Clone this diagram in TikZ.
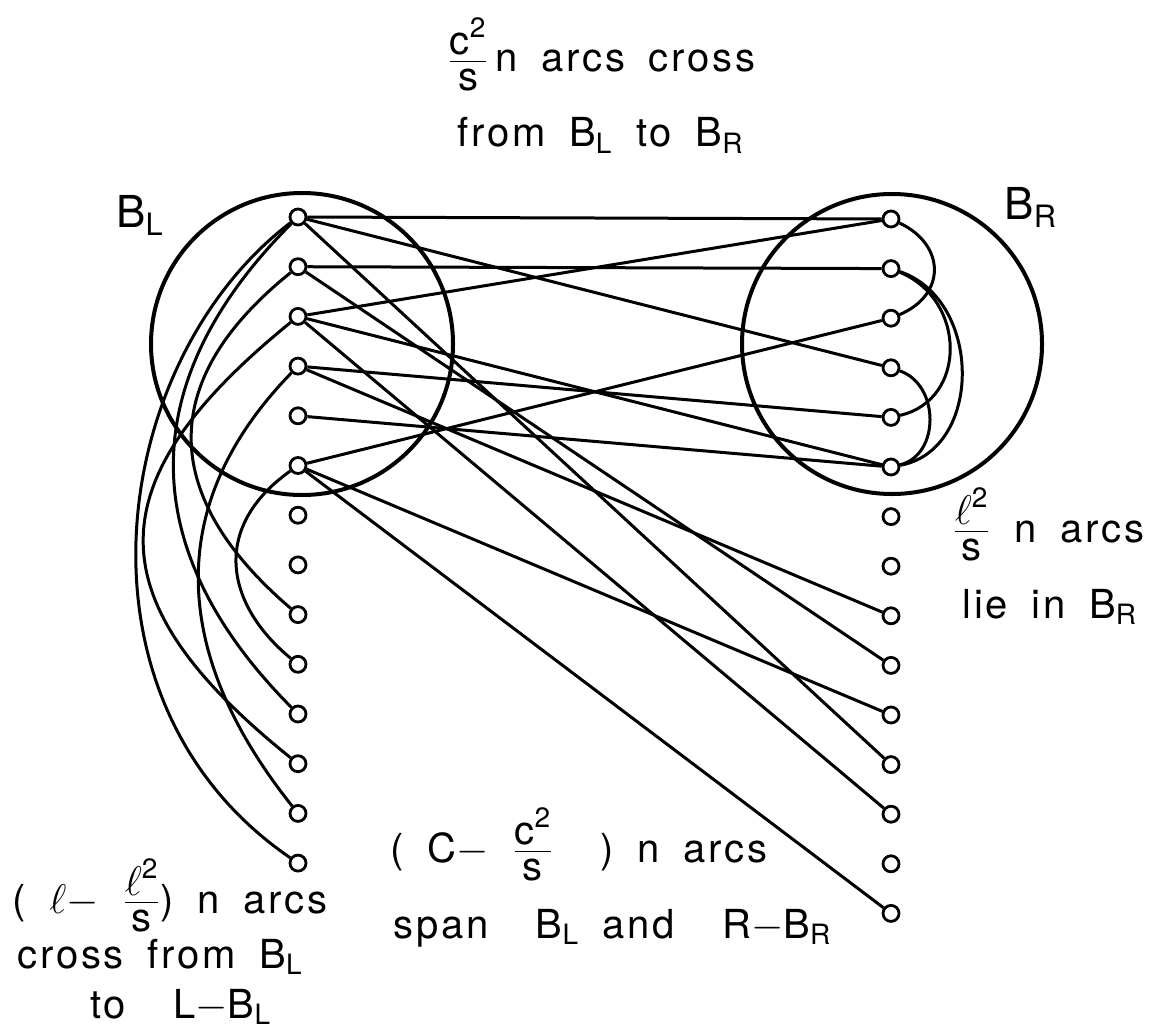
\documentclass[tikz,border=0pt]{standalone}
\usepackage{amsmath}
\usepackage{fontspec}
\setmainfont{TeX Gyre Heros}[LetterSpace=7,WordSpace=1.7]
\usepackage{tikz}
\newcommand{\fr}[2]{\tfrac{\displaystyle #1\rule[-2.5pt]{0pt}{2.5pt}}{\displaystyle #2\rule{0pt}{13pt}}}

\begin{document}
\begin{tikzpicture}[x=0.5pt,y=-0.5pt,
  vtx/.style={draw,circle,fill=white,line width=1.4pt,minimum size=8pt,inner sep=0pt},
  bag/.style={draw,circle,line width=2pt,inner sep=0pt},
  aresta/.style={line width=1.5pt},
  rotulo/.style={font=\fontsize{20}{24}\selectfont,inner sep=0pt,anchor=base west}]
\useasboundingbox (0,0) rectangle (1159,1032);
% Conjuntos B_L e B_R
\node[bag,minimum size=151pt] (BL) at (302,344) {};
\node[bag,minimum size=150pt] (BR) at (892,344) {};
\node[rotulo,font=\fontsize{22}{26}\selectfont] (nBL) at (116,227) {$\text{B}_{\text{L}}$};
\node[rotulo,font=\fontsize{22}{26}\selectfont] (nBR) at (1004,219) {$\text{B}_{\text{R}}$};
% Vertices
\foreach \i in {1,...,14}
  \node[vtx] (l\i) at (298,{217+49.7*(\i-1)}) {};
\foreach \i in {1,...,15}
  \node[vtx] (r\i) at (891,{219+49.6*(\i-1)}) {};
% Arestas retas
\foreach \a/\b in {l1/r1,l2/r2,l3/r1,l1/r4,l3/r6,l5/r6,l4/r5,l6/r3,
                   l4/r9,l2/r10,l6/r11,l1/r12,l3/r13,l6/r15}
  \draw[aresta] (\a) -- (\b);
% Arcos para L-B_L
\draw[aresta] (l1) .. controls (110,360) and (60,700) .. (l14);
\draw[aresta] (l1) .. controls (134,381) and (134,549) .. (l11);
\draw[aresta] (l2) .. controls (152,384) and (164,500) .. (l9);
\draw[aresta] (l3) .. controls (94,482) and (94,600) .. (l12);
\draw[aresta] (l4) .. controls (153,515) and (182,668) .. (l13);
\draw[aresta] (l6) .. controls (210,528) and (226,605) .. (l10);
% Arcos dentro de B_R
\draw[aresta] (r1) .. controls (946,245) and (946,295) .. (r3);
\draw[aresta] (r2) .. controls (967,300) and (967,400) .. (r5);
\draw[aresta] (r2) .. controls (983,300) and (983,450) .. (r6);
\draw[aresta] (r4) .. controls (940,385) and (940,455) .. (r6);
% Textos
\node[rotulo] (t1) at (447,72) {$\fr{\text{c}^{\text{2}}}{\text{s}}$\,n arcs cross};
\node[rotulo] (t2) at (457,147) {from $\text{B}_{\text{L}}$ to $\text{B}_{\text{R}}$};
\node[rotulo] (t3) at (952,542) {$\fr{\ell^{\text{2}}}{\text{s}}$ n arcs};
\node[rotulo] (t4) at (962,618) {lie in $\text{B}_{\text{R}}$};
\node[rotulo] (t5) at (390,862) {( C$-$ $\fr{\text{c}^{\text{2}}}{\text{s}}$ \ ) n arcs};
\node[rotulo] (t6) at (393,938) {span \ $\text{B}_{\text{L}}$ and \ R$-$$\text{B}_{\text{R}}$};
\node[rotulo] (t7) at (12,913) {( $\ell$$-$ $\fr{\ell^{\text{2}}}{\text{s}}$) n arcs};
\node[rotulo] (t8) at (17,968) {cross from $\text{B}_{\text{L}}$};
\node[rotulo] (t9) at (90,1018) {to \ L$-$$\text{B}_{\text{L}}$};
\end{tikzpicture}
\end{document}
